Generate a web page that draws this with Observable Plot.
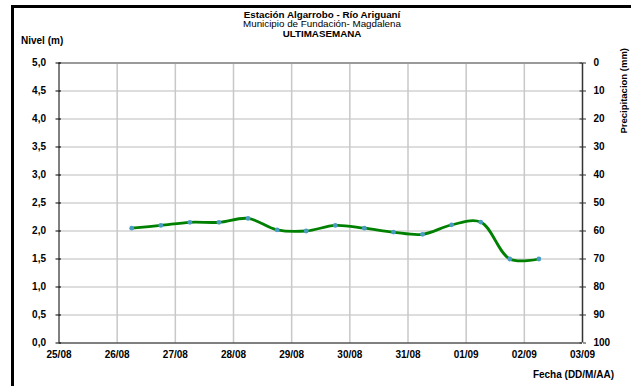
<!DOCTYPE html>
<html><head><meta charset="utf-8">
<script src="https://cdn.jsdelivr.net/npm/d3@7"></script>
<script src="https://cdn.jsdelivr.net/npm/@observablehq/plot@0.6"></script>
<style>
body{margin:0;background:#fff;}
#wrap{position:relative;width:631px;height:386px;overflow:hidden;background:#fff;}
#frame{position:absolute;left:11px;top:5px;width:640px;height:400px;border-top:3px solid #000;border-left:3px solid #000;pointer-events:none;}
</style></head><body><div id="wrap"><div id="frame"></div></div>
<script>
// Data
const times = [
  "2019-08-26T06:00Z","2019-08-26T18:00Z","2019-08-27T06:00Z","2019-08-27T18:00Z",
  "2019-08-28T06:00Z","2019-08-28T18:00Z","2019-08-29T06:00Z","2019-08-29T18:00Z",
  "2019-08-30T06:00Z","2019-08-30T18:00Z","2019-08-31T06:00Z","2019-08-31T18:00Z",
  "2019-09-01T06:00Z","2019-09-01T18:00Z","2019-09-02T06:00Z"
];
const nivel = [2.05, 2.10, 2.155, 2.155, 2.225, 2.02, 2.00, 2.10, 2.05, 1.98, 1.94, 2.11, 2.16, 1.50, 1.50];
const dayTicks = ["2019-08-25","2019-08-26","2019-08-27","2019-08-28","2019-08-29","2019-08-30","2019-08-31","2019-09-01","2019-09-02","2019-09-03"];
const nivelTicks = [0,0.5,1,1.5,2,2.5,3,3.5,4,4.5,5];
const precipTicks = [100,90,80,70,60,50,40,30,20,10,0];
const titleLines = ["Estación Algarrobo - Río Ariguaní","Municipio de Fundación- Magdalena","ULTIMASEMANA"];

const data = times.map((t,i)=>({date:new Date(t), nivel:nivel[i]}));
const days = dayTicks.map(d=>new Date(d+"T00:00Z"));

const W=631,H=386, mL=58.5, mR=49, mT=62.5, mB=43.5;
const plotW = W-mL-mR;
const font = "'Liberation Sans', Arial, sans-serif";

const chart = Plot.plot({
  width:W, height:H,
  marginLeft:mL, marginRight:mR, marginTop:mT, marginBottom:mB,
  style:{fontFamily:font, fontSize:"10px", fontWeight:"bold", color:"#000", background:"transparent", overflow:"visible"},
  x:{type:"utc", domain:[days[0], days[days.length-1]]},
  y:{domain:[0,5]},
  marks:[
    Plot.gridY(nivelTicks.slice(1,-1), {stroke:"#d2d2d2", strokeOpacity:1, strokeWidth:1.5}),
    Plot.gridX(days.slice(1,-1), {stroke:"#c8c8c8", strokeOpacity:1, strokeWidth:1.5}),
    Plot.ruleY([5], {stroke:"#9a9a9a", strokeWidth:2}),
    Plot.ruleX([days[0]], {stroke:"#000", strokeWidth:1}),
    Plot.ruleX([days[days.length-1]], {stroke:"#333", strokeWidth:1.5}),
    Plot.ruleY([0], {stroke:"#000", strokeWidth:1}),
    Plot.ruleY(nivelTicks, {insetRight:plotW-2.5, stroke:"#000", strokeWidth:1}),
    Plot.ruleY(nivelTicks, {insetLeft:plotW-2.5, stroke:"#333", strokeWidth:1}),
    Plot.axisY(nivelTicks, {anchor:"left", ticks:nivelTicks, tickSize:3, tickPadding:10,
      tickFormat:d=>d.toFixed(1).replace(".",","), label:null, fontWeight:"bold"}),
    Plot.axisY(nivelTicks, {anchor:"right", ticks:nivelTicks, tickSize:3, tickPadding:8,
      tickFormat:d=>String(precipTicks[nivelTicks.indexOf(d)]), label:null, fontWeight:"bold", stroke:"#333"}),
    Plot.axisX({anchor:"bottom", ticks:days, tickSize:0, tickPadding:8,
      tickFormat:d3.utcFormat("%d/%m"), label:null, fontWeight:"bold"}),
    Plot.line(data, {x:"date", y:"nivel", stroke:"#008000", strokeWidth:2.8, curve:"catmull-rom"}),
    Plot.dot(data, {x:"date", y:"nivel", r:2.4, fill:"#4a9cc4", stroke:"none"})
  ]
});

const svg = d3.select(chart);
const addText = (txt, x, y, opts={}) => svg.append("text")
  .attr("x", x).attr("y", y)
  .attr("text-anchor", opts.anchor||"middle")
  .attr("font-family", font)
  .attr("font-size", opts.size||"10px")
  .attr("font-weight", opts.weight||"bold")
  .attr("fill", "#000")
  .attr("transform", opts.transform||null)
  .text(txt);

addText(titleLines[0], 322, 17.5, {size:"9.8px"});
addText(titleLines[1], 322, 27, {size:"9.8px", weight:"normal"});
addText(titleLines[2], 322, 36.5, {size:"9.8px"});
addText("Nivel (m)", 21, 44, {anchor:"start"});
addText("Fecha (DD/M/AA)", 614, 378, {anchor:"end"});
addText("Precipitacion (mm)", 0, 0, {anchor:"end", size:"9.5px", transform:"translate(627,48) rotate(-90)"});

chart.style.position="absolute"; chart.style.left="0"; chart.style.top="0";
document.getElementById("wrap").insertBefore(chart, document.getElementById("frame"));
</script>
</body></html>
